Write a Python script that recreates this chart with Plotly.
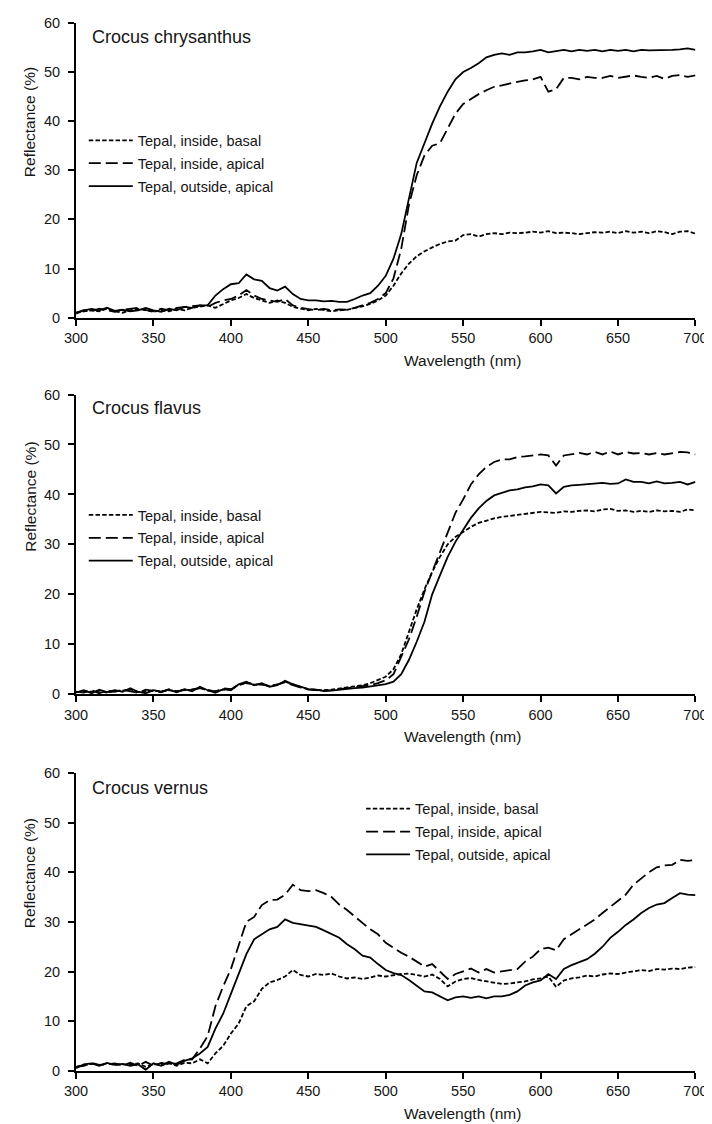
import plotly.graph_objects as go

wavelength = list(range(300, 705, 5))

series_names = ["Tepal, inside, basal", "Tepal, inside, apical", "Tepal, outside, apical"]
panel_names = ["Crocus chrysanthus", "Crocus flavus", "Crocus vernus"]
x_ticks = [300, 350, 400, 450, 500, 550, 600, 650, 700]
y_ticks = [0, 10, 20, 30, 40, 50, 60]

# ---- Crocus chrysanthus ----
chrys_basal = [1.0, 1.2, 1.5, 1.3, 1.8, 1.3, 1.0, 1.5, 1.8, 1.5, 1.2, 1.5, 1.3, 1.8, 1.5, 2.0, 2.2, 2.5, 2.0, 2.8,
               3.5, 4.0, 4.8, 4.0, 3.5, 3.0, 3.5, 3.0, 2.2, 1.8, 1.5, 1.8, 1.5, 1.3, 1.5, 1.6, 2.0, 2.3, 2.8, 3.5,
               4.5, 6.5, 9.0, 11.0, 12.5, 13.5, 14.3, 15.0, 15.5, 15.7, 16.8, 17.0, 16.5, 17.0, 17.2, 17.0, 17.3, 17.2, 17.3, 17.5,
               17.3, 17.6, 17.2, 17.3, 17.2, 17.0, 17.2, 17.4, 17.3, 17.5, 17.2, 17.6, 17.3, 17.5, 17.2, 17.6, 17.4, 17.0, 17.5, 17.6,
               17.1]
chrys_apical_in = [1.0, 1.5, 1.3, 1.8, 1.5, 1.2, 1.6, 1.8, 2.0, 1.6, 1.3, 1.8, 1.5, 2.0, 2.2, 2.3, 2.5, 2.2, 3.0, 3.5,
                   3.8, 4.5, 5.6, 4.5, 3.8, 3.5, 3.2, 3.8, 2.5, 2.0, 1.8, 1.5, 1.8, 1.5, 1.7, 1.6, 2.0, 2.5, 3.0, 3.8,
                   5.0, 8.0, 14.0, 23.0, 29.0, 33.0, 35.0, 35.5, 38.5, 41.5, 43.5, 44.5, 45.5, 46.3, 47.0, 47.3, 47.7, 48.0, 48.3, 48.5,
                   49.0, 46.0, 46.5, 48.8, 48.8, 48.5, 49.0, 48.8, 48.8, 49.2, 48.8, 49.0, 49.3, 49.0, 48.8, 49.2, 48.6, 49.2, 49.4, 49.0,
                   49.3]
chrys_apical_out = [0.8, 1.5, 1.8, 1.5, 2.0, 1.4, 1.6, 1.3, 1.5, 2.0, 1.5, 1.2, 1.8, 1.5, 2.2, 2.0, 2.5, 2.5, 4.5, 5.8,
                    6.8, 7.0, 8.8, 7.8, 7.5, 6.0, 5.5, 6.3, 4.8, 3.8, 3.5, 3.5, 3.3, 3.4, 3.2, 3.2, 3.8, 4.5, 5.0, 6.5,
                    8.5, 12.0, 17.0, 24.5, 31.5, 35.5, 39.5, 43.0, 46.0, 48.5, 50.0, 50.8, 51.8, 53.0, 53.5, 53.8, 53.5, 54.0, 54.0, 54.2,
                    54.5, 54.0, 54.3, 54.5, 54.2, 54.5, 54.3, 54.5, 54.2, 54.5, 54.3, 54.5, 54.2, 54.5, 54.4, 54.4, 54.5, 54.5, 54.6, 54.8,
                    54.5]

# ---- Crocus flavus ----
flav_basal = [0.4, 0.6, 0.5, 0.7, 0.3, 0.6, 0.7, 1.0, 0.4, 0.6, 0.7, 0.6, 0.8, 0.5, 0.9, 0.8, 1.3, 0.7, 0.6, 0.9,
              1.0, 1.9, 2.2, 1.9, 2.0, 1.6, 1.9, 2.5, 1.9, 1.4, 1.0, 0.9, 0.8, 0.9, 1.1, 1.3, 1.5, 1.8, 2.2, 2.8,
              3.5, 5.0, 8.0, 12.5, 17.0, 21.0, 24.5, 27.5, 30.0, 31.5, 32.5, 33.5, 34.3, 34.8, 35.2, 35.5, 35.7, 36.0, 36.2, 36.3,
              36.5, 36.4, 36.3, 36.6, 36.5, 36.7, 36.8, 36.6, 37.0, 37.1, 36.7, 36.8, 36.5, 36.7, 36.5, 36.8, 36.6, 36.7, 36.5, 37.0,
              36.8]
flav_apical_in = [0.5, 0.3, 0.8, 0.2, 0.7, 0.5, 0.9, 0.6, 0.3, 0.9, 0.6, 0.4, 1.0, 0.6, 0.8, 1.0, 1.2, 0.9, 0.5, 1.2,
                  1.0, 1.8, 2.3, 2.0, 1.9, 1.6, 2.0, 2.4, 1.8, 1.3, 0.9, 0.8, 0.7, 0.8, 1.0, 1.1, 1.3, 1.5, 1.8, 2.2,
                  2.8, 4.0, 7.5, 11.0, 15.5, 20.5, 24.5, 28.5, 32.5, 36.3, 39.0, 42.0, 44.0, 45.5, 46.5, 47.0, 47.0, 47.5, 47.6, 47.8,
                  48.0, 47.8, 45.8, 47.8, 48.0, 48.3, 48.0, 48.5, 48.0, 48.6, 48.0, 48.5, 48.2, 48.3, 48.0, 48.3, 48.0, 48.3, 48.5, 48.4,
                  48.0]
flav_apical_out = [0.3, 0.8, 0.2, 0.9, 0.4, 0.8, 0.5, 1.2, 0.5, 0.2, 0.8, 0.5, 0.9, 0.4, 1.0, 0.6, 1.5, 0.8, 0.3, 1.0,
                   0.8, 2.0, 2.5, 1.8, 2.2, 1.5, 1.8, 2.7, 2.0, 1.5, 1.0, 0.9, 0.6, 0.7, 0.9, 1.0, 1.2, 1.3, 1.5, 1.8,
                   2.0, 2.5, 4.0, 6.9, 10.5, 14.5, 20.0, 23.8, 27.5, 30.5, 32.8, 35.3, 37.2, 38.7, 39.8, 40.3, 40.8, 41.0, 41.4, 41.6,
                   42.0, 41.8, 40.2, 41.5, 41.8, 41.9, 42.0, 42.2, 42.3, 42.1, 42.2, 43.0, 42.5, 42.5, 42.2, 42.6, 42.2, 42.3, 42.5, 42.0,
                   42.5]

# ---- Crocus vernus ----
vern_basal = [0.8, 1.2, 1.4, 1.1, 1.5, 1.2, 1.3, 1.2, 1.5, 0.8, 1.3, 1.2, 1.5, 1.0, 1.6, 1.5, 2.3, 1.5, 3.5, 5.0,
              7.5, 9.5, 13.0, 14.0, 16.5, 17.8, 18.3, 19.0, 20.3, 19.3, 19.0, 19.5, 19.3, 19.6, 19.0, 18.6, 18.8, 18.5, 18.8, 19.2,
              19.0, 19.3, 19.5, 19.6, 19.3, 19.0, 19.4, 18.5, 17.0, 18.0, 18.5, 18.7, 18.3, 18.0, 17.8, 17.5, 17.6, 17.8, 18.0, 18.4,
              18.6, 19.0, 16.9, 18.2, 18.6, 18.8, 19.2, 19.0, 19.4, 19.6, 19.5, 19.8, 20.0, 20.3, 20.1, 20.5, 20.4, 20.6, 20.5, 20.8,
              20.9]
vern_apical_in = [0.8, 1.0, 1.6, 1.2, 1.3, 1.5, 1.1, 1.6, 1.0, 1.8, 1.0, 1.6, 1.3, 1.5, 2.2, 2.3, 4.5, 7.0, 13.0, 17.0,
                  20.5, 25.5, 30.0, 31.0, 33.4, 34.4, 34.5, 35.5, 37.5, 36.4, 36.2, 36.4, 35.8, 35.0, 33.5, 32.4, 31.1, 29.8, 28.5, 27.5,
                  25.8, 24.8, 23.8, 23.0, 22.0, 21.0, 21.5, 20.0, 18.5, 19.5, 20.0, 20.6, 19.8, 20.5, 19.8, 20.0, 20.2, 20.5, 22.0, 23.0,
                  24.5, 24.8, 24.3, 26.5, 27.5, 28.5, 29.5, 30.5, 31.8, 33.0, 34.3, 35.5, 37.5, 38.8, 40.0, 41.0, 41.4, 41.5, 42.5, 42.3,
                  42.5]
vern_apical_out = [0.5, 1.3, 1.5, 1.0, 1.6, 1.2, 1.4, 1.0, 1.3, 0.2, 1.5, 1.0, 1.8, 1.2, 2.0, 2.5, 3.5, 4.8, 8.5, 11.5,
                   15.5, 19.5, 23.5, 26.5, 27.5, 28.5, 29.0, 30.5, 29.8, 29.5, 29.3, 29.0, 28.3, 27.5, 26.8, 25.5, 24.5, 23.2, 22.8, 21.5,
                   20.3, 19.7, 19.3, 18.3, 17.2, 16.0, 15.8, 15.0, 14.2, 14.8, 15.0, 14.7, 15.0, 14.6, 15.0, 15.0, 15.3, 16.0, 17.2, 17.8,
                   18.2, 19.5, 18.5, 20.5, 21.3, 21.9, 22.5, 23.6, 25.0, 26.8, 28.0, 29.4, 30.5, 31.8, 32.8, 33.5, 33.8, 34.8, 35.8, 35.5,
                   35.4]

panels = [
    [chrys_basal, chrys_apical_in, chrys_apical_out],
    [flav_basal, flav_apical_in, flav_apical_out],
    [vern_basal, vern_apical_in, vern_apical_out],
]

FONT = "Liberation Sans, Arial, sans-serif"
TXT = "#161616"
dashes = ["4.5px,2.2px", "12px,5px", "solid"]

W, H = 712, 1124
x_dom = [58 / W, 699 / W]
# plot-area pixel extents (top, bottom) for each panel
panel_px = [(7, 306), (384, 688), (768, 1070)]
y_doms = [[1 - b / H, 1 - t / H] for (t, b) in panel_px]

fig = go.Figure()
legend_names = ["legend", "legend2", "legend3"]
for p, data in enumerate(panels):
    xa = "x" if p == 0 else f"x{p + 1}"
    ya = "y" if p == 0 else f"y{p + 1}"
    for s, vals in enumerate(data):
        fig.add_trace(go.Scatter(
            x=wavelength, y=vals, mode="lines", name=series_names[s],
            xaxis=xa, yaxis=ya, legend=legend_names[p], legendgroup=f"g{p}{s}",
            line=dict(color="black", width=1.8, dash=dashes[s]),
            hoverinfo="skip",
        ))

layout = dict(
    width=W, height=H, margin=dict(l=0, r=0, t=0, b=0),
    paper_bgcolor="white", plot_bgcolor="white",
    font=dict(family=FONT, size=14, color=TXT),
    annotations=[],
)

axis_common = dict(
    showgrid=False, zeroline=False, showline=True, linecolor="black", linewidth=2,
    ticks="outside", ticklen=6, tickwidth=1.5, tickcolor="black",
    tickfont=dict(family=FONT, size=14.5, color=TXT),
)

# legend anchor (px): left edge, top edge
legend_pos = [(76, 110), (76, 490), (363, 788)]

for p in range(3):
    sfx = "" if p == 0 else str(p + 1)
    layout[f"xaxis{sfx}"] = dict(
        domain=x_dom, anchor=f"y{sfx}", range=[300, 700],
        tickmode="array", tickvals=x_ticks, ticktext=[str(v) for v in x_ticks],
        **axis_common,
    )
    layout[f"yaxis{sfx}"] = dict(
        domain=y_doms[p], anchor=f"x{sfx}", range=[0, 60],
        tickmode="array", tickvals=y_ticks, ticktext=[str(v) for v in y_ticks],
        ticklabelstandoff=5,
        **axis_common,
    )
    lx, ly = legend_pos[p]
    layout[legend_names[p]] = dict(
        x=(lx - 10) / W, y=1 - ly / H, xanchor="left", yanchor="top",
        xref="paper", yref="paper",
        bgcolor="rgba(0,0,0,0)", borderwidth=0,
        font=dict(family=FONT, size=14.5, color=TXT),
        traceorder="grouped", tracegroupgap=1, itemwidth=44,
        itemclick=False, itemdoubleclick=False,
    )

# panel names
name_y = [21, 398, 783]
for p in range(3):
    layout["annotations"].append(dict(
        text=panel_names[p], x=72.5 / W, y=1 - name_y[p] / H, xref="paper", yref="paper",
        xanchor="left", yanchor="middle", showarrow=False,
        font=dict(family=FONT, size=18, color=TXT),
    ))

# axis titles
ytitle_y = [108, 488, 870]
xtitle_y = [349, 731, 1113]
for p in range(3):
    layout["annotations"].append(dict(
        text="Reflectance (%)", x=10 / W, y=1 - ytitle_y[p] / H, xref="paper", yref="paper",
        xanchor="center", yanchor="middle", textangle=-90, showarrow=False,
        font=dict(family=FONT, size=15.5, color=TXT),
    ))
    layout["annotations"].append(dict(
        text="Wavelength (nm)", x=458 / W, y=1 - xtitle_y[p] / H, xref="paper", yref="paper",
        xanchor="center", yanchor="middle", showarrow=False,
        font=dict(family=FONT, size=15.5, color=TXT),
    ))

fig.update_layout(**layout)
fig.write_html("out.html")
